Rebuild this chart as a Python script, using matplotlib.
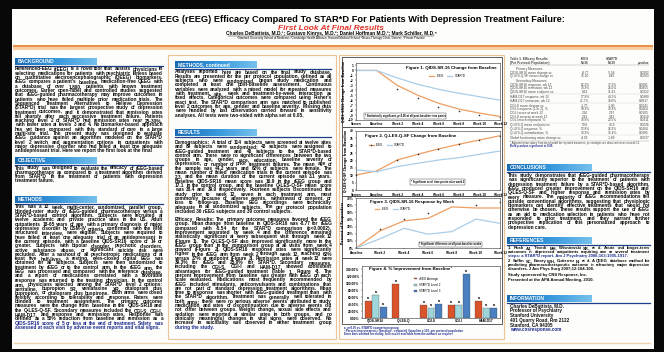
import matplotlib
matplotlib.use("Agg")
import matplotlib.pyplot as plt
from matplotlib.colors import LinearSegmentedColormap
from matplotlib.font_manager import FontProperties
from matplotlib.patches import Rectangle
import numpy as np

W, H = 664, 352
FONT = "Liberation Sans"

# ---- chart data ----
weeks_a = ["Screen", "Baseline", "Week 2", "Week 4", "Week 6", "Week 8", "Week 10", "Week 12"]
weeks_b = ["Baseline", "Week 2", "Week 4", "Week 6", "Week 8", "Week 10", "Week 12"]

qids_change_reeg = [0, 0, -3.0, -5.0, -6.6, -7.8, -8.6, -9.3]
qids_change_reeg_obs = [np.nan, np.nan, -3.7, -5.6, -7.4, -8.2, -8.9, -9.3]
qids_change_stard = [0, 0, -1.5, -2.8, -3.8, -4.6, -5.3, -6.0]

qles_change_reeg = [10.2, 12.9, 20.3, 24.2, 27.8, 31.0, 33.9, 36.8]
qles_change_stard = [13.6, 12.4, 15.8, 18.1, 20.3, 21.9, 24.2, 26.4]

response_reeg = [0, 24, 38, 41.5, 57.6, 56, 56]
response_stard = [0, 12.9, 27.6, 19.3, 23, 40.5, 34.5]
response_sig = [np.nan, 26, 40, 49, np.nan, 60, 65]

improve_groups = ["QIDS-SR16", "Q-LES-Q", "CGI-S", "CGI-I", "HAM-D17"]
improve_reeg = [50, 98, 37, 37, 50]
improve_stard_l2 = [65, np.nan, 30, 37, 30]
improve_stard_l3 = [33, np.nan, 40, 127, 30]

# ---- table 1 ----
prim_labels = ["QIDS-SR16 mean change sc.", "Q-LES-Q-SF mean change sc."]
prim_reeg = ["-8.77", "15.10"]
prim_stard = ["-5.54", "6.45"]
prim_p = ["0.0002", "0.0003"]

sec_labels = ["QIDS-SR16 response, wk 12", "QIDS-SR16 remission, wk 12", "QIDS-SR16 mean endpoint sc.",
              "HAM-D17 response, wk 12", "HAM-D17 remission, wk 12",
              "CGI-S mean change sc.", "CGI-I response (1 or 2), %", "CGI-I score at week 12",
              "CGI-S severity at week 12", "CGI-I much improved, %",
              "Q-LES-Q mean endpoint sc.", "Q-LES-Q response, %", "Q-LES-Q normalization, %",
              "Global functioning mean change sc."]
sec_reeg = ["62.2%", "39.3%", "8.13", "57.9%", "41.7%", "-1.75", "58.3%", "2.36", "2.81",
            "38.9%", "53.6", "52.8%", "33.3%", "-4.92"]
sec_stard = ["37.2%", "25.0%", "11.41", "40.2%", "30.6%", "-1.00", "33.3%", "2.97", "3.42",
             "20.5%", "45.9", "28.2%", "15.4%", "-1.89"]
sec_p = ["0.0291", "0.0455", "0.0022", "0.0380", "0.0917", "0.0041", "0.0264", "0.0105",
         "0.0118", "0.0311", "0.0026", "0.0204", "0.0395", "0.0037"]

# ---- poster text ----
title = "Referenced-EEG (rEEG) Efficacy Compared To STAR*D For Patients With Depression Treatment Failure:"
subtitle = "First Look At Final Results"
authors = "Charles DeBattista, M.D.¹; Gustavo Kinrys, M.D.²; Daniel Hoffman M.D.³; Mark Schiller, M.D.⁴"
affil = ("¹Stanford University School of Medicine; ²Cambridge Health Alliance, Harvard Medical School; "
         "³Neuro-Therapy Clinic, Denver; ⁴Private Practice")

background = ("Referenced-EEG (rEEG) is a novel tool that assists physicians in selecting medications for "
              "patients with psychiatric illness based on quantitative electroencephalographic (QEEG) "
              "biomarkers. rEEG compares a patient's baseline, medication-free QEEG with a database of over "
              "1,800 patients with known treatment outcomes. Earlier open-label and controlled studies "
              "suggested that rEEG-guided pharmacotherapy may improve outcomes in patients who have failed "
              "multiple prior medication trials. The Sequenced Treatment Alternatives to Relieve Depression "
              "(STAR*D) trial was the largest prospective study of depression treatment outcomes, and it "
              "demonstrated that remission rates fall sharply after each successive treatment failure. "
              "Patients reaching level 2 of STAR*D had remission rates near 25-30%, with lower rates at "
              "levels 3 and 4. No biomarker-based approach has yet been compared with this standard of care "
              "in a large multi-site trial. The present study was designed to evaluate rEEG guidance against "
              "an algorithm modeled on the STAR*D level 2 switch and augmentation options in outpatients with "
              "major depressive disorder who had failed at least one adequate antidepressant trial. Here we "
              "report the first look at the final results of this trial.")
objective = ("This study was designed to evaluate the efficacy of rEEG-based pharmacotherapy as compared "
             "to a treatment algorithm derived from STAR*D in the treatment of patients with depression "
             "treatment failure.")
methods = ("This was a 12 week, multi-center, randomized, parallel group, blinded-rater study of rEEG-guided "
           "pharmacotherapy versus a STAR*D-based control algorithm. Subjects were recruited at twelve "
           "academic and private practice sites in the US. Adult outpatients 18-65 years of age with a "
           "primary diagnosis of major depressive disorder by DSM-IV criteria, confirmed with the MINI "
           "structured interview, were eligible. Subjects were required to have failed at least one adequate "
           "trial of an antidepressant in the current episode, with a baseline QIDS-SR16 score of 14 or "
           "greater. Subjects with bipolar disorder, psychotic disorders, active substance abuse, or "
           "significant suicide risk were excluded. After a washout of all psychotropic medications of at "
           "least five half-lives, a resting, eyes-closed digital EEG was obtained for all subjects. Subjects "
           "were then randomized to treatment by rEEG or to the control arm. In the rEEG arm, the EEG was "
           "processed and compared with the reference database, and a report of medications correlated with "
           "a favorable response was returned to the treating physician. In the control arm, physicians "
           "selected among the STAR*D level 2 options: sertraline, bupropion SR, venlafaxine XR, citalopram "
           "plus bupropion, or citalopram plus buspirone. Both arms were dosed flexibly according to "
           "tolerability and response. Raters were blinded to treatment assignment. The primary outcome "
           "measures were the change from baseline in the QIDS-SR16 and the Q-LES-Q-SF. Secondary measures "
           "included the CGI-S, CGI-I, HAM-D17, and response and remission rates. Response was defined as a "
           "50% reduction from baseline and remission as a QIDS-SR16 score of 5 or less at the end of "
           "treatment. Safety was assessed at each visit by adverse event reports and vital signs.")
methods_cont = ("Analyses reported here are based on the final study database. Results are presented for the "
                "per protocol population, defined as all subjects who were randomized, began study medication "
                "and completed at least one post-baseline assessment. Continuous variables were analyzed with "
                "a mixed model for repeated measures with treatment, site, week and treatment-by-week "
                "interaction as fixed effects. Categorical outcomes were compared using Fisher's exact test. "
                "The STAR*D comparison arm was matched to published level 2 outcomes for age, gender and "
                "baseline severity. Missing data were handled by last observation carried forward in "
                "sensitivity analyses. All tests were two-sided with alpha set at 0.05.")
results_1 = ("Demographics: A total of 114 subjects were screened at twelve sites and 89 subjects were "
             "randomized; 43 subjects were assigned to rEEG-guided treatment and 46 subjects to the "
             "STAR*D-based control arm. There were no significant differences between the two groups in age, "
             "gender, race, education, baseline severity of depression, or number of prior treatment failures. "
             "The mean age of the sample was 44.2 years and 62% of subjects were female. The mean number of "
             "failed medication trials in the current episode was 2.3, and the mean duration of the current "
             "episode was 3.1 years. Baseline QIDS-SR16 mean score was 16.9 in the rEEG group and 17.1 in the "
             "control group, and the baseline Q-LES-Q-SF mean score was 38.4 and 39.0 respectively. Fourteen "
             "subjects discontinued the study prior to week 12, seven in each treatment arm, most commonly "
             "because of adverse events, withdrawal of consent, or loss to follow-up. Baseline EEG recordings "
             "were technically adequate in all randomized subjects. The per protocol population included 36 "
             "rEEG subjects and 39 control subjects.")
results_2 = ("Efficacy Results: The primary outcome measures favored the rEEG group. Mean change from "
             "baseline in QIDS-SR16 was -8.77 for rEEG compared with -5.54 for the STAR*D comparison "
             "(p<0.0002). Improvement separated by week 4 and the difference remained statistically "
             "significant at every subsequent visit through week 12 (Figure 1). The Q-LES-Q-SF also improved "
             "significantly more in the rEEG group than in the comparison group at all visits from week 4 "
             "onward (Figure 2). QIDS-SR16 response rates were significantly higher in the rEEG arm from week "
             "2 through week 12, reaching 62% versus 37% at endpoint (Figure 3). Remission rates at week 12 "
             "were 39.3% for rEEG and 25.0% for STAR*D. Secondary measures, including the CGI-S, CGI-I and "
             "HAM-D17, showed consistent advantages for rEEG-guided treatment (Table 1, Figure 4). The percent "
             "improvement from baseline was greater with rEEG on each scale evaluated. Medications most "
             "frequently recommended by rEEG included stimulants, anticonvulsants and combinations that are "
             "not part of standard depression treatment algorithms. Mean time to response was shorter with "
             "rEEG-guided treatment than with the STAR*D algorithm. Treatment was generally well tolerated in "
             "both arms; there were no serious adverse events attributed to study medication and rates of "
             "discontinuation due to adverse events did not differ between groups. Weight change, sexual side "
             "effects and sedation were reported at similar rates in both groups, and no clinically meaningful "
             "changes in vital signs were observed. No increase in suicidality was observed in either "
             "treatment group during the study.")
conclusions = ("This study demonstrates that rEEG-guided pharmacotherapy was significantly superior to the "
               "treatment of patients with depression treatment failure by a STAR*D-based algorithm. rEEG "
               "produced greater improvement on the QIDS-SR16 and Q-LES-Q-SF and higher response and "
               "remission rates by every measure. The majority of rEEG recommendations fell outside "
               "conventional algorithms, suggesting that physiologic biomarkers can identify effective "
               "treatments that would not otherwise be chosen. These results support the use of rEEG as an aid "
               "to medication selection in patients who have not responded to prior treatment, and they "
               "warrant further prospective replication of this personalized approach to depression care.")
refs = ["1. Rush AJ, Trivedi MH, Wisniewski SR, et al. Acute and longer-term outcomes in depressed "
        "outpatients requiring one or several treatment steps: a STAR*D report. Am J Psychiatry "
        "2006;163:1905-1917.",
        "2. Suffin SC, Emory WH, Gutierrez N, et al. A QEEG database method for predicting "
        "pharmacotherapeutic outcome in refractory major depressive disorders. J Am Phys Surg 2007;12:104-108.",
        "Study sponsored by CNS Response, Inc.",
        "Presented at the APA Annual Meeting, 2010."]
info_lines = ["Charles DeBattista, M.D.", "Professor of Psychiatry", "Stanford University",
              "401 Quarry Road, Rm 2122", "Stanford, CA 94305", "www.cnsresponse.com"]

ORANGE = "#ef9e62"
BLUE_L = "#a9cde8"
BODY_SIZE = 3.4
LEAD = 4.3

fig = plt.figure(figsize=(W / 100, H / 100), dpi=100)
fig.patch.set_facecolor("#080808")
bg = fig.add_axes([0, 0, 1, 1])
bg.set_xlim(0, W)
bg.set_ylim(H, 0)
bg.axis("off")
renderer = fig.canvas.get_renderer()


def text_w(s, fp):
    w, h, d = renderer.get_text_width_height_descent(s, fp, ismath=False)
    return w


def fit_text(x, y, s, width, color="black", style="normal", weight="bold"):
    fp = FontProperties(family=[FONT, "DejaVu Sans"], weight=weight, style=style, size=10)
    size = 10 * width / text_w(s, fp)
    bg.text(x, y, s, fontsize=size, color=color, fontstyle=style, fontweight=weight,
            family=[FONT, "DejaVu Sans"], ha="center", va="center")


def para(x, y, width, text, size=BODY_SIZE, lead=LEAD, color="#0a0a0a", max_lines=None, blue_last=0):
    fp = FontProperties(family=FONT, weight="bold", size=size)
    sp = text_w("a a", fp) - text_w("aa", fp)
    lines, cur, cw = [], [], 0
    for word in text.split():
        ww = text_w(word, fp)
        nw = ww if not cur else cw + sp + ww
        if cur and nw > width:
            lines.append(cur)
            cur, cw = [(word, ww)], ww
        else:
            cur.append((word, ww))
            cw = nw
    if cur:
        lines.append(cur)
    if max_lines:
        lines = lines[:max_lines]
    for i, line in enumerate(lines):
        yy = y + i * lead
        col = "#1b2a8c" if i >= len(lines) - blue_last else color
        if i < len(lines) - 1 and len(line) > 1:
            gap = (width - sum(w for _, w in line)) / (len(line) - 1)
            xx = x
            for word, ww in line:
                bg.text(xx, yy, word, fontsize=size, fontweight="bold", family=FONT,
                        color=col, va="baseline", ha="left")
                xx += ww + gap
        else:
            bg.text(x, yy, " ".join(w for w, _ in line), fontsize=size, fontweight="bold",
                    family=FONT, color=col, va="baseline", ha="left")
    return y + len(lines) * lead


hdr_cmap = LinearSegmentedColormap.from_list("hdr", ["#1a6cb5", "#3597dc", "#76c0ec"])


def header(x, y, label, line_to, bar_w=82):
    grad = np.linspace(0, 1, 64).reshape(1, -1)
    bg.imshow(grad, extent=(x, x + bar_w, y + 7, y), cmap=hdr_cmap, aspect="auto", zorder=2)
    bg.plot([x, line_to], [y + 7.6, y + 7.6], color="#1d3f8a", lw=0.9, zorder=2)
    bg.text(x + 3, y + 3.8, label, fontsize=3.6, fontweight="bold", family=FONT,
            color="white", va="center", zorder=3)


# poster sheet
bg.add_patch(Rectangle((12, 9), 642, 340, fc="#fdfdfb", ec="none"))

# title block
fit_text(335, 19, title, 455)
fit_text(331, 28.5, subtitle, 106, color="#e2332a", style="italic")
fit_text(331, 33.6, authors, 207)
bg.plot([228, 434], [35.6, 35.6], color="black", lw=0.3)
fit_text(331, 38.3, affil, 187, weight="normal")
bg.add_patch(Rectangle((13, 45), 640, 1.6, fc="#e9924c", ec="none"))
bg.add_patch(Rectangle((13, 46.6), 640, 3.0, fc="#f7cfa3", ec="none"))

# column frames
bg.add_patch(Rectangle((168, 55), 168, 284, fc="none", ec="#ecc596", lw=0.8))
bg.add_patch(Rectangle((339, 55), 165, 284, fc="none", ec="#ecc596", lw=0.8))
bg.plot([14, 650], [342.5, 342.5], color="#ecd5a8", lw=1.0)

# column 1
header(15, 58, "BACKGROUND", 163)
para(15, 70.5, 148, background, max_lines=20)
header(15, 157, "OBJECTIVE", 163)
para(15, 169.5, 148, objective)
header(15, 196, "METHODS", 163)
para(15, 208.5, 148, methods, blue_last=2, max_lines=30)

# column 2
header(175, 61, "METHODS, continued", 331)
para(175, 73.5, 157, methods_cont, max_lines=12)
header(175, 129, "RESULTS", 331)
end = para(175, 144, 157, results_1, max_lines=19)
para(175, end + 4, 157, results_2, max_lines=26, blue_last=1)

# column 3 chart frames
for y0, y1 in [(57, 127), (127, 196), (196, 258), (258, 324)]:
    bg.add_patch(Rectangle((342, y0), 160, y1 - y0, fc="white", ec="#444444", lw=0.6))


def px_axes(x0, y0, x1, y1):
    return fig.add_axes([x0 / W, 1 - y1 / H, (x1 - x0) / W, (y1 - y0) / H])


def style(ax):
    for s in ax.spines.values():
        s.set_linewidth(0.4)
        s.set_color("#333333")
    ax.tick_params(labelsize=2.3, length=1, width=0.3, pad=0.8)
    plt.setp(ax.get_xticklabels() + ax.get_yticklabels(), fontweight="bold", family=FONT)


def chart_title(ax, x, y, s, ha="left"):
    ax.text(x, y, s, transform=ax.transAxes, ha=ha, va="top", fontsize=3.2,
            fontweight="bold", family=FONT)


def chart_note(ax, x, y, s):
    ax.text(x, y, s, transform=ax.transAxes, fontsize=1.9, fontweight="bold", family=FONT,
            bbox=dict(fc="white", ec="#333333", lw=0.3, pad=0.6))


def chart_legend(ax, x, y):
    ax.legend(loc="upper left", bbox_to_anchor=(x, y), ncol=2, frameon=False,
              handlelength=1.6, columnspacing=1.2, borderaxespad=0, prop={"family": FONT, "size": 2.2})


# figure 1
ax1 = px_axes(356, 63, 500, 120)
xa = np.arange(len(weeks_a))
ax1.plot(xa, qids_change_reeg, color=ORANGE, lw=0.9, label="rEEG")
ax1.plot(xa, qids_change_stard, color=BLUE_L, lw=0.9, label="STAR*D")
ax1.plot(xa, qids_change_reeg_obs, ls="none", marker="+", ms=2, mew=0.4, color="#333333")
ax1.set_xlim(0, len(weeks_a) - 1)
ax1.set_ylim(-10, 1.5)
ax1.set_xticks(xa, weeks_a)
ax1.set_yticks(np.arange(-10, 2, 1))
ax1.set_ylabel("QIDS-SR16 Change from Baseline", fontsize=2.3, fontweight="bold", labelpad=1)
style(ax1)
chart_title(ax1, 0.98, 0.94, "Figure 1. QIDS-SR-16 Change from Baseline", ha="right")
chart_legend(ax1, 0.5, 0.82)
chart_note(ax1, 0.06, 0.05, "* Statistically significant, p<0.05 at all post-baseline time points")

# figure 2
ax2 = px_axes(356, 131, 500, 190)
ax2.plot(xa, qles_change_reeg, color=ORANGE, lw=0.9, marker="+", ms=1.8, mew=0.4,
         mec="#333333", label="rEEG")
ax2.plot(xa, qles_change_stard, color=BLUE_L, lw=0.9, label="STAR*D")
ax2.set_xlim(0, len(weeks_a) - 1)
ax2.set_ylim(0, 40)
ax2.set_xticks(xa, weeks_a)
ax2.set_yticks(np.arange(0, 41, 5))
ax2.set_ylabel("Q-LES-Q-SF Change from Baseline", fontsize=2.3, fontweight="bold", labelpad=1)
style(ax2)
chart_title(ax2, 0.06, 0.95, "Figure 2. Q-LES-Q-SF Change from Baseline")
chart_legend(ax2, 0.08, 0.82)
chart_note(ax2, 0.38, 0.12, "* Significant at all time points after week 2")

# figure 3
ax3 = px_axes(356, 198, 500, 248)
xb = np.arange(len(weeks_b))
ax3.plot(xb, response_reeg, color=ORANGE, lw=0.9, label="rEEG")
ax3.plot(xb, response_stard, color=BLUE_L, lw=0.9, label="STAR*D")
ax3.plot(xb, response_sig, ls="none", marker="+", ms=2, mew=0.4, color="#333333")
ax3.set_xlim(0, len(weeks_b) - 1)
ax3.set_ylim(0, 70)
ax3.set_xticks(xb, weeks_b)
ax3.set_yticks(np.arange(0, 71, 10), [f"{v}%" for v in range(0, 71, 10)])
ax3.set_ylabel("Percent of Responders", fontsize=2.3, fontweight="bold", labelpad=1)
style(ax3)
chart_title(ax3, 0.1, 0.95, "Figure 3. QIDS-SR-16 Response by Week")
chart_legend(ax3, 0.12, 0.84)
chart_note(ax3, 0.44, 0.05, "* Significant difference at all post-baseline weeks")

# figure 4
ax4 = px_axes(362, 266, 500, 318)
xg = np.arange(len(improve_groups))
bw = 0.25
series4 = [(improve_reeg, "#d9542b", "rEEG Average"),
           (improve_stard_l2, "#9ed6dc", "STAR*D Level 2"),
           (improve_stard_l3, "#4a7fc1", "STAR*D Level 3")]
for k, (vals, col, lab) in enumerate(series4):
    pos = xg + (k - 1) * (bw + 0.02)
    ax4.bar(pos, vals, width=bw, color=col, ec="#333333", lw=0.2, label=lab)
    for p, v in zip(pos, vals):
        if not np.isnan(v):
            ax4.text(p, v + 3, "a", ha="center", va="bottom", fontsize=2.2, fontweight="bold")
ax4.set_xlim(-0.5, len(improve_groups) - 0.5)
ax4.set_ylim(0, 150)
ax4.set_xticks(xg, improve_groups)
ax4.set_yticks(np.arange(0, 141, 20), [f"{v:.2f}%" for v in range(0, 141, 20)])
style(ax4)
ax4.tick_params(axis="x", length=0)
chart_title(ax4, 0.05, 0.99, "Figure 4. % Improvement from Baseline\u00b9")
ax4.legend(loc="upper left", bbox_to_anchor=(0.37, 0.82), frameon=False, handlelength=0.8,
           handleheight=0.6, labelspacing=0.7, borderaxespad=0, prop={"family": FONT, "size": 2.2})

notes4 = ["a  p<0.05 vs. STAR*D comparison group",
          "\u00b9 Percent improvement = (baseline - endpoint) / baseline x 100, per protocol population",
          "Error bars omitted for clarity; full results available from the authors on request"]
for i, s in enumerate(notes4):
    bg.text(344, 328.5 + i * 3.4, s, fontsize=2.1, fontweight="bold", family=FONT, color="#1b2a8c")

# column 4: table
tfs = 2.3
tc = "#444444"
c1, c2, c3 = 585, 612, 649


def trow(y, lab, a, b, p, x=510, w="normal"):
    bg.text(x, y, lab, fontsize=tfs, color=tc, family=FONT, fontweight=w, va="baseline")
    bg.text(c1, y, a, fontsize=tfs, color=tc, family=FONT, fontweight=w, ha="center", va="baseline")
    bg.text(c2, y, b, fontsize=tfs, color=tc, family=FONT, fontweight=w, ha="center", va="baseline")
    bg.text(c3, y, p, fontsize=tfs, color=tc, family=FONT, fontweight=w, ha="right", va="baseline")


trow(60, "Table 1. Efficacy Results", "rEEG", "STAR*D", "", w="bold")
trow(63.6, "(Per Protocol Population)", "N=36", "N=39", "p-value", w="bold")
bg.plot([510, 649], [65.2, 65.2], color="#999999", lw=0.3)
bg.text(516, 70, "Primary Measures", fontsize=tfs, color=tc, family=FONT, va="baseline")
y = 73.6
for lab, a, b, p in zip(prim_labels, prim_reeg, prim_stard, prim_p):
    trow(y, lab, a, b, p)
    y += 3.6
bg.text(516, y + 1.2, "Secondary Measures", fontsize=tfs, color=tc, family=FONT, va="baseline")
y += 4.8
for i, (lab, a, b, p) in enumerate(zip(sec_labels, sec_reeg, sec_stard, sec_p)):
    trow(y, lab, a, b, p)
    y += 3.6
    if i in (2, 4, 9, 12):
        bg.plot([510, 649], [y - 2.2, y - 2.2], color="#cccccc", lw=0.25)
        y += 1.6
bg.plot([510, 649], [y - 1.5, y - 1.5], color="#999999", lw=0.3)
bg.text(510, y + 1.6, "* Adjusted mean values from mixed model for repeated measures; percentages are "
        "observed cases at week 12.", fontsize=1.9, color=tc, family=FONT, va="baseline")
bg.text(510, y + 4.6, "Bold p-values significant at 0.05.", fontsize=2.0, color="#1b2a8c",
        family=FONT, fontweight="bold", va="baseline")

header(507, 164, "CONCLUSIONS", 650, bar_w=85)
para(508, 177, 142, conclusions, max_lines=13)
header(507, 237, "REFERENCES", 650, bar_w=85)
yy = 249
for i, r in enumerate(refs):
    yy = para(508, yy, 142, r, size=3.0, lead=3.9, blue_last=1 if i == 0 else 0) + 1.6
header(507, 295, "INFORMATION", 650, bar_w=85)
for i, s in enumerate(info_lines):
    bg.text(510, 307 + i * 4.9, s, fontsize=3.3, fontweight="bold", family=FONT,
            color="#1b2a8c" if i == len(info_lines) - 1 else "#111111", va="baseline")

fig.savefig("out.png", dpi=100, facecolor=fig.get_facecolor())
